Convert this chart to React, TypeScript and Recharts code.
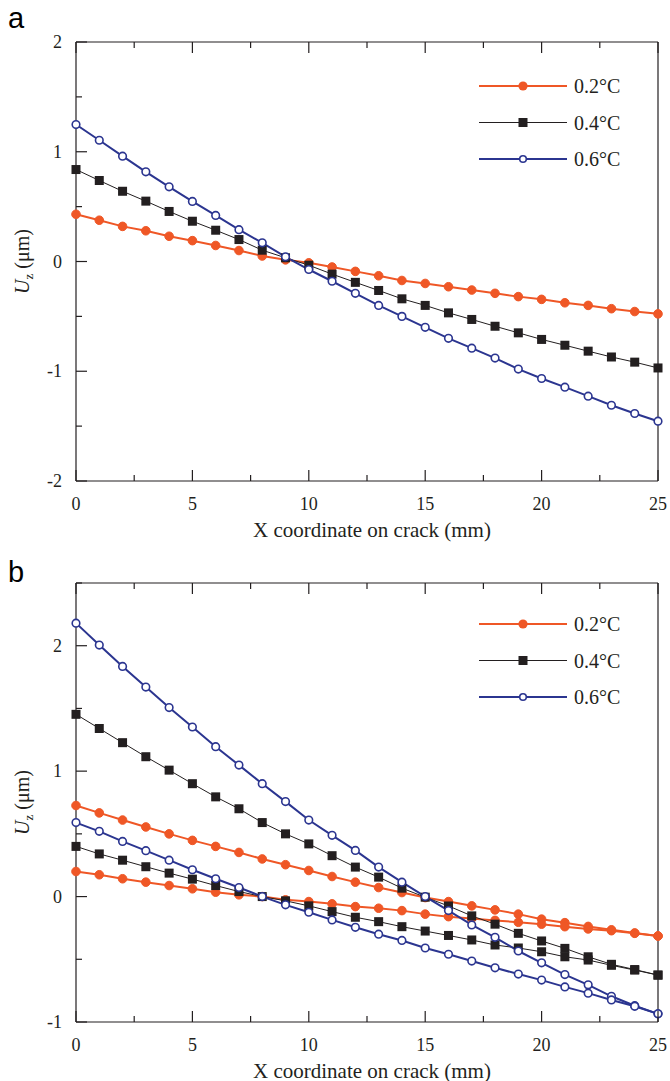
import React from "react";
import { LineChart, Line, XAxis, YAxis } from "recharts";

// x positions along the crack (mm)
const xs = [0, 1, 2, 3, 4, 5, 6, 7, 8, 9, 10, 11, 12, 13, 14, 15, 16, 17, 18, 19, 20, 21, 22, 23, 24, 25];

// panel a
const aT02 = [0.43, 0.376, 0.32, 0.28, 0.23, 0.19, 0.146, 0.1, 0.05, 0.015, -0.012, -0.05, -0.09, -0.13, -0.173, -0.2, -0.23, -0.26, -0.29, -0.32, -0.345, -0.376, -0.4, -0.43, -0.456, -0.477];
const aT04 = [0.838, 0.738, 0.64, 0.55, 0.456, 0.367, 0.285, 0.2, 0.103, 0.034, -0.034, -0.115, -0.19, -0.264, -0.34, -0.4, -0.468, -0.528, -0.59, -0.65, -0.71, -0.763, -0.817, -0.87, -0.917, -0.97];
const aT06 = [1.248, 1.105, 0.96, 0.817, 0.68, 0.547, 0.42, 0.29, 0.17, 0.043, -0.073, -0.18, -0.29, -0.4, -0.5, -0.6, -0.7, -0.79, -0.88, -0.98, -1.066, -1.145, -1.227, -1.31, -1.385, -1.455];

// panel b (two curves per temperature)
const bT02hi = [0.726, 0.667, 0.61, 0.555, 0.5, 0.448, 0.4, 0.352, 0.3, 0.254, 0.208, 0.16, 0.115, 0.072, 0.032, -0.008, -0.04, -0.074, -0.106, -0.14, -0.18, -0.208, -0.238, -0.265, -0.29, -0.314];
const bT02lo = [0.2, 0.174, 0.142, 0.115, 0.088, 0.062, 0.035, 0.014, 0, -0.026, -0.04, -0.058, -0.08, -0.093, -0.112, -0.14, -0.16, -0.175, -0.19, -0.205, -0.22, -0.24, -0.258, -0.272, -0.293, -0.314];
const bT04hi = [1.453, 1.34, 1.227, 1.115, 1.008, 0.9, 0.795, 0.7, 0.59, 0.5, 0.42, 0.326, 0.235, 0.155, 0.067, -0.005, -0.075, -0.154, -0.22, -0.293, -0.354, -0.413, -0.48, -0.54, -0.582, -0.626];
const bT04lo = [0.4, 0.34, 0.29, 0.238, 0.187, 0.139, 0.088, 0.04, 0, -0.034, -0.074, -0.12, -0.165, -0.2, -0.24, -0.275, -0.31, -0.346, -0.386, -0.41, -0.44, -0.48, -0.506, -0.548, -0.586, -0.626];
const bT06hi = [2.18, 2.005, 1.835, 1.67, 1.507, 1.352, 1.195, 1.048, 0.9, 0.757, 0.61, 0.488, 0.368, 0.235, 0.115, 0, -0.112, -0.226, -0.325, -0.434, -0.528, -0.622, -0.704, -0.795, -0.87, -0.935];
const bT06lo = [0.59, 0.52, 0.44, 0.366, 0.29, 0.214, 0.142, 0.072, 0, -0.066, -0.125, -0.186, -0.245, -0.3, -0.35, -0.41, -0.46, -0.514, -0.568, -0.618, -0.666, -0.72, -0.77, -0.824, -0.875, -0.935];

const xTicks = [0, 2.5, 5, 7.5, 10, 12.5, 15, 17.5, 20, 22.5, 25];
const aYTicks = [-2, -1.5, -1, -0.5, 0, 0.5, 1, 1.5, 2];
const bYTicks = [-1, -0.5, 0, 0.5, 1, 1.5, 2, 2.5];

const legendLabels = ["0.2°C", "0.4°C", "0.6°C"];

const ORANGE = "#EF5726";
const BLACK = "#231F20";
const BLUE = "#2B3590";
const AXIS = "#231F20";
const SERIF = "'Liberation Serif', 'Times New Roman', serif";

const dataA = xs.map((x, i) => ({ x, t02: aT02[i], t04: aT04[i], t06: aT06[i] }));
const dataB = xs.map((x, i) => ({
  x,
  t02hi: bT02hi[i],
  t02lo: bT02lo[i],
  t04hi: bT04hi[i],
  t04lo: bT04lo[i],
  t06hi: bT06hi[i],
  t06lo: bT06lo[i],
}));

const isMajor = (v: number) => Math.abs(v - Math.round(v)) < 1e-6;

const BottomTick = (props: any) => {
  const { x, y, payload } = props;
  const major = payload.value % 5 === 0;
  return (
    <g>
      <line x1={x} y1={y} x2={x} y2={y - (major ? 11 : 6)} stroke={AXIS} strokeWidth={1.2} />
      {major && (
        <text x={x} y={y + 29} textAnchor="middle" fontFamily={SERIF} fontSize={18} fill={AXIS}>
          {payload.value}
        </text>
      )}
    </g>
  );
};

const TopTick = (props: any) => {
  const { x, y, payload } = props;
  const major = payload.value % 5 === 0;
  return <line x1={x} y1={y} x2={x} y2={y + (major ? 11 : 6)} stroke={AXIS} strokeWidth={1.2} />;
};

const LeftTick = (props: any) => {
  const { x, y, payload } = props;
  const major = isMajor(payload.value);
  return (
    <g>
      <line x1={x} y1={y} x2={x + (major ? 11 : 6)} y2={y} stroke={AXIS} strokeWidth={1.2} />
      {major && (
        <text x={x - 14} y={y + 6} textAnchor="end" fontFamily={SERIF} fontSize={18} fill={AXIS}>
          {payload.value}
        </text>
      )}
    </g>
  );
};

const RightTick = (props: any) => {
  const { x, y, payload } = props;
  const major = isMajor(payload.value);
  return <line x1={x} y1={y} x2={x - (major ? 11 : 6)} y2={y} stroke={AXIS} strokeWidth={1.2} />;
};

const YTitle = (props: any) => {
  const vb = props.viewBox || { y: 42, height: 439 };
  const cy = vb.y + vb.height / 2;
  return (
    <text
      x={29}
      y={cy}
      transform={`rotate(-90, 29, ${cy})`}
      textAnchor="middle"
      fontFamily={SERIF}
      fontSize={20}
      fill={AXIS}
    >
      <tspan fontStyle="italic">U</tspan>
      <tspan fontSize={13} dy={4}>z</tspan>
      <tspan dy={-4}> (μm)</tspan>
    </text>
  );
};

const XTitle = (props: any) => {
  const vb = props.viewBox || { x: 76, width: 582, y: 481 };
  return (
    <text
      x={vb.x + vb.width / 2 + 5}
      y={vb.y + 56}
      textAnchor="middle"
      fontFamily={SERIF}
      fontSize={21}
      fill={AXIS}
    >
      X coordinate on crack (mm)
    </text>
  );
};

const circleDot = (color: string, r: number) => (p: any) => (
  <circle key={`c${p.index}`} cx={p.cx} cy={p.cy} r={r} fill={color} stroke={color} strokeWidth={1} />
);
const squareDot = (p: any) => (
  <rect key={`s${p.index}`} x={p.cx - 4.5} y={p.cy - 4.5} width={9} height={9} fill={BLACK} />
);
const openDot = (p: any) => (
  <circle key={`o${p.index}`} cx={p.cx} cy={p.cy} r={3.8} fill="#fff" stroke={BLUE} strokeWidth={1.6} />
);

const LegendBox = ({ left, top }: { left: number; top: number }) => {
  const rows = [26, 62.5, 99];
  return (
    <svg style={{ position: "absolute", left, top }} width={180} height={120}>
      <line x1={9} x2={97} y1={rows[0]} y2={rows[0]} stroke={ORANGE} strokeWidth={2} />
      <circle cx={53} cy={rows[0]} r={4.6} fill={ORANGE} />
      <line x1={9} x2={97} y1={rows[1]} y2={rows[1]} stroke={BLACK} strokeWidth={1} />
      <rect x={48.5} y={rows[1] - 4.5} width={9} height={9} fill={BLACK} />
      <line x1={9} x2={97} y1={rows[2]} y2={rows[2]} stroke={BLUE} strokeWidth={2} />
      <circle cx={53} cy={rows[2]} r={3.3} fill="#fff" stroke={BLUE} strokeWidth={1.6} />
      {legendLabels.map((l, i) => (
        <text key={l} x={104} y={rows[i] + 7} fontFamily={SERIF} fontSize={20} fill={AXIS}>
          {l}
        </text>
      ))}
    </svg>
  );
};

const W = 670;
const H = 548;
const margin = { top: 41, right: 11, left: 0, bottom: 0 };

// frame + ticks shared by both panels
function frame(yDomain: number[], yTicks: number[]) {
  return [
    <XAxis
      key="xb"
      dataKey="x"
      type="number"
      domain={[0, 25]}
      ticks={xTicks}
      interval={0}
      height={67}
      tickSize={0}
      tickMargin={0}
      tickLine={false}
      tick={<BottomTick />}
      stroke={AXIS}
      strokeWidth={1.2}
      label={<XTitle />}
    />,
    <XAxis
      key="xt"
      xAxisId="top"
      orientation="top"
      dataKey="x"
      type="number"
      domain={[0, 25]}
      ticks={xTicks}
      interval={0}
      height={1}
      tickSize={0}
      tickMargin={0}
      tickLine={false}
      tick={<TopTick />}
      stroke={AXIS}
      strokeWidth={1.2}
    />,
    <YAxis
      key="yl"
      type="number"
      domain={yDomain}
      ticks={yTicks}
      interval={0}
      width={76}
      tickSize={0}
      tickMargin={0}
      tickLine={false}
      tick={<LeftTick />}
      stroke={AXIS}
      strokeWidth={1.2}
      label={<YTitle />}
    />,
    <YAxis
      key="yr"
      yAxisId="right"
      orientation="right"
      type="number"
      domain={yDomain}
      ticks={yTicks}
      interval={0}
      width={1}
      tickSize={0}
      tickMargin={0}
      tickLine={false}
      tick={<RightTick />}
      stroke={AXIS}
      strokeWidth={1.2}
    />,
  ];
}

function PanelA() {
  return (
    <LineChart width={W} height={H} data={dataA} margin={margin}>
      {frame([-2, 2], aYTicks)}
      <Line dataKey="t02" stroke={ORANGE} strokeWidth={2} dot={circleDot(ORANGE, 4.3)} isAnimationActive={false} />
      <Line dataKey="t04" stroke={BLACK} strokeWidth={1} dot={squareDot} isAnimationActive={false} />
      <Line dataKey="t06" stroke={BLUE} strokeWidth={2} dot={openDot} isAnimationActive={false} />
    </LineChart>
  );
}

function PanelB() {
  return (
    <LineChart width={W} height={H} data={dataB} margin={margin}>
      {frame([-1, 2.5], bYTicks)}
      <Line dataKey="t02hi" stroke={ORANGE} strokeWidth={2} dot={circleDot(ORANGE, 4.3)} isAnimationActive={false} />
      <Line dataKey="t02lo" stroke={ORANGE} strokeWidth={2} dot={circleDot(ORANGE, 4.3)} isAnimationActive={false} />
      <Line dataKey="t04hi" stroke={BLACK} strokeWidth={1} dot={squareDot} isAnimationActive={false} />
      <Line dataKey="t04lo" stroke={BLACK} strokeWidth={1} dot={squareDot} isAnimationActive={false} />
      <Line dataKey="t06hi" stroke={BLUE} strokeWidth={2} dot={openDot} isAnimationActive={false} />
      <Line dataKey="t06lo" stroke={BLUE} strokeWidth={2} dot={openDot} isAnimationActive={false} />
    </LineChart>
  );
}

export default function App() {
  return (
    <div style={{ position: "absolute", left: 0, top: 0, width: 670, height: 1081, background: "#fff" }}>
      <div style={{ position: "absolute", left: 0, top: 0 }}>
        <PanelA />
      </div>
      <div style={{ position: "absolute", left: 0, top: 541 }}>
        <PanelB />
      </div>
      <LegendBox left={470} top={60} />
      <LegendBox left={470} top={598} />
      <svg style={{ position: "absolute", left: 0, top: 0, pointerEvents: "none" }} width={60} height={1081}>
        <text x={8} y={28} fontFamily="'Liberation Sans', Arial, sans-serif" fontSize={29} fill="#000">
          a
        </text>
        <text x={8} y={582} fontFamily="'Liberation Sans', Arial, sans-serif" fontSize={29} fill="#000">
          b
        </text>
      </svg>
    </div>
  );
}
